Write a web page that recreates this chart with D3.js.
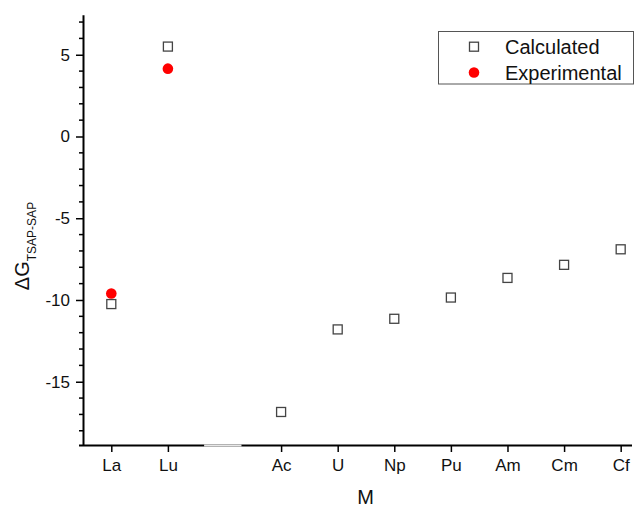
<!DOCTYPE html>
<html>
<head>
<meta charset="utf-8">
<script src="https://cdn.jsdelivr.net/npm/d3@7"></script>
<style>
  html, body { margin: 0; padding: 0; background: #fff; }
  svg { display: block; font-family: "Liberation Sans", Arial, sans-serif; }
</style>
</head>
<body>
<svg id="chart" width="639" height="509"></svg>
<script>
// categorías en el eje x ("" = hueco del corte de eje)
const categories   = ["La", "Lu", "", "Ac", "U", "Np", "Pu", "Am", "Cm", "Cf"];
// valores
const calculated   = [-10.25, 5.5, null, -16.85, -11.8, -11.15, -9.85, -8.65, -7.85, -6.9];
const experimental = [-9.6, 4.15, null, null, null, null, null, null, null, null];
const yMajorTicks  = [-15, -10, -5, 0, 5];
const yMinorTicks  = [-18, -17, -16, -14, -13, -12, -11, -9, -8, -7, -6, -4, -3, -2, -1, 1, 2, 3, 4, 6, 7];
const axisBreak    = [2.64, 3.3];

const svg = d3.select("#chart");
const mLeft = 83, mRight = 632, mTop = 14.7, mBottom = 445;

const x = d3.scaleLinear().domain([0.5, 10.2]).range([mLeft, mRight]);
const y = d3.scaleLinear().domain([-18.87, 7.45]).range([mBottom, mTop]);

// ----- Ejes -----
const tickIdx = categories.map((c, i) => i + 1).filter(i => categories[i - 1] !== "");

const xAxis = svg.append("g")
  .attr("transform", `translate(0,${mBottom})`)
  .call(d3.axisBottom(x).tickValues(tickIdx).tickFormat(i => categories[i - 1])
    .tickSizeInner(7).tickSizeOuter(0).tickPadding(7));
xAxis.select(".domain").attr("stroke", "#000").attr("stroke-width", 2)
  .attr("d", `M${mLeft - 4},0.5H${mRight}`);
xAxis.selectAll(".tick line").attr("stroke", "#000").attr("stroke-width", 1.5);
xAxis.selectAll(".tick text").attr("font-size", 17).attr("fill", "#111")
  .attr("font-family", "Liberation Sans, Arial, sans-serif");

// corte del eje
svg.append("line")
  .attr("x1", x(axisBreak[0])).attr("x2", x(axisBreak[1]))
  .attr("y1", mBottom + 0.5).attr("y2", mBottom + 0.5)
  .attr("stroke", "#e8e8e8").attr("stroke-width", 2.2);

const yAxis = svg.append("g")
  .attr("transform", `translate(${mLeft},0)`)
  .call(d3.axisLeft(y).tickValues(yMajorTicks).tickFormat(d => String(d))
    .tickSizeInner(7).tickSizeOuter(0).tickPadding(6));
yAxis.select(".domain").attr("stroke", "#000").attr("stroke-width", 2);
yAxis.selectAll(".tick line").attr("stroke", "#000").attr("stroke-width", 1.5);
yAxis.selectAll(".tick text").attr("font-size", 17).attr("fill", "#111")
  .attr("font-family", "Liberation Sans, Arial, sans-serif");

svg.append("g").selectAll("line").data(yMinorTicks).join("line")
  .attr("x1", mLeft - 4).attr("x2", mLeft)
  .attr("y1", d => y(d)).attr("y2", d => y(d))
  .attr("stroke", "#000").attr("stroke-width", 1.5);

// títulos de ejes
svg.append("text")
  .attr("x", (mLeft + mRight) / 2 + 8).attr("y", 504)
  .attr("text-anchor", "middle").attr("font-size", 20).attr("fill", "#111")
  .text("M");

const yt = svg.append("text")
  .attr("transform", "translate(29,246) rotate(-90)")
  .attr("text-anchor", "middle").attr("font-size", 20).attr("fill", "#111");
yt.append("tspan").text("ΔG");
yt.append("tspan").attr("font-size", 12).attr("dy", 7).text("TSAP-SAP");

// ----- Datos -----
const sq = 9;
svg.append("g").selectAll("rect")
  .data(calculated.map((v, i) => ({ i: i + 1, v })).filter(d => d.v !== null))
  .join("rect")
  .attr("x", d => x(d.i) - sq / 2).attr("y", d => y(d.v) - sq / 2)
  .attr("width", sq).attr("height", sq)
  .attr("fill", "#fff").attr("stroke", "#444").attr("stroke-width", 1.3);

svg.append("g").selectAll("circle")
  .data(experimental.map((v, i) => ({ i: i + 1, v })).filter(d => d.v !== null))
  .join("circle")
  .attr("cx", d => x(d.i)).attr("cy", d => y(d.v)).attr("r", 5.3)
  .attr("fill", "#ff0000");

// ----- Leyenda -----
const lg = svg.append("g");
lg.append("rect")
  .attr("x", 438.5).attr("y", 31.5).attr("width", 195).attr("height", 52.5)
  .attr("fill", "#fff").attr("stroke", "#555").attr("stroke-width", 1);
lg.append("rect")
  .attr("x", 474 - sq / 2).attr("y", 46.7 - sq / 2).attr("width", sq).attr("height", sq)
  .attr("fill", "#fff").attr("stroke", "#444").attr("stroke-width", 1.3);
lg.append("circle").attr("cx", 474).attr("cy", 72.5).attr("r", 5.3).attr("fill", "#ff0000");
lg.append("text").attr("x", 505).attr("y", 53.5).attr("font-size", 20).attr("fill", "#111").text("Calculated");
lg.append("text").attr("x", 505).attr("y", 79.5).attr("font-size", 20).attr("fill", "#111").text("Experimental");
</script>
</body>
</html>
